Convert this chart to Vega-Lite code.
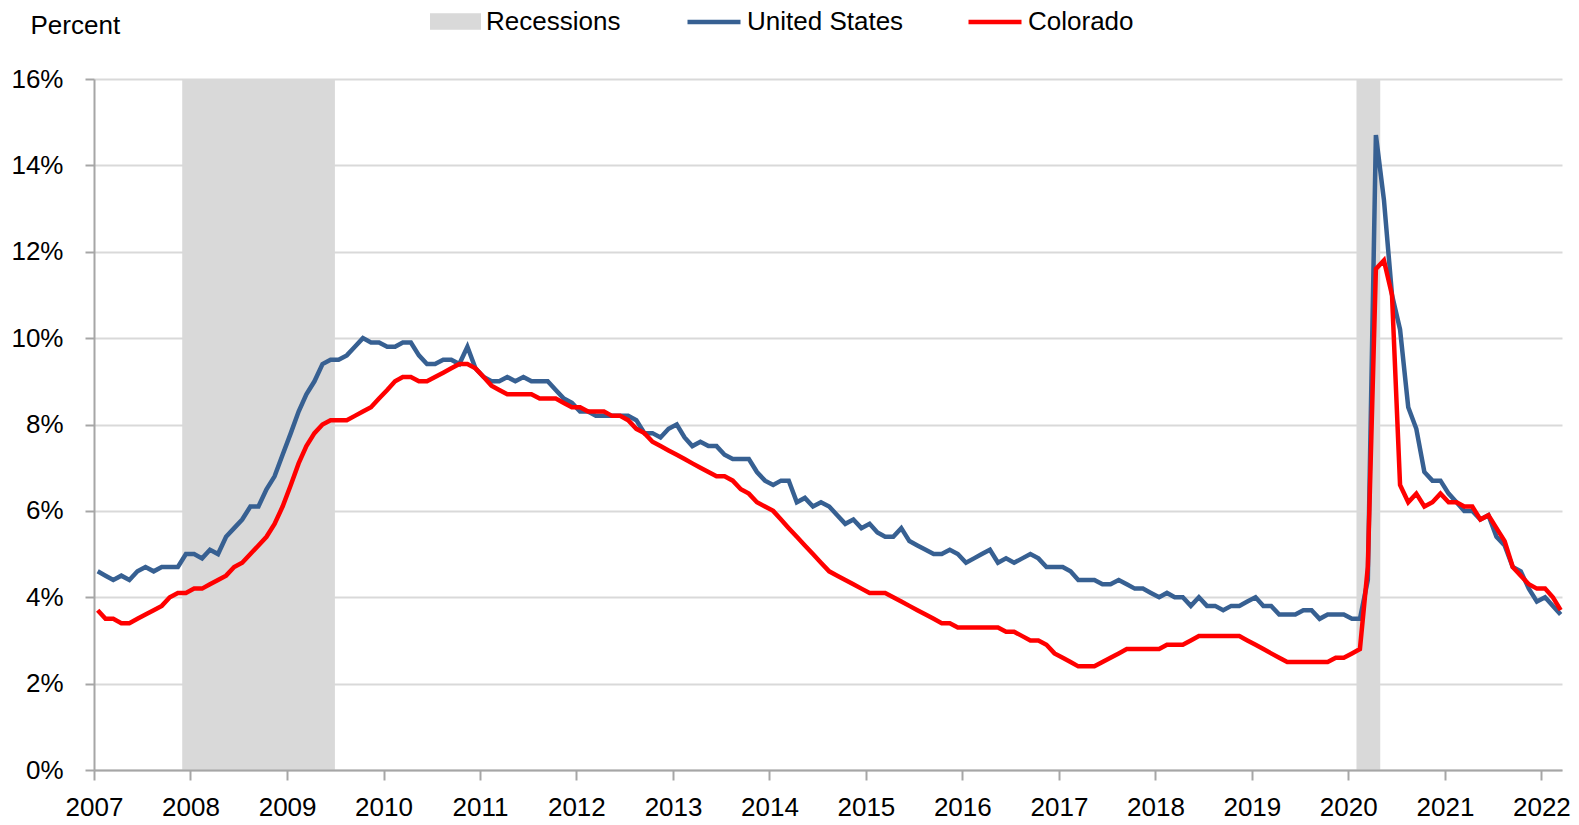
{
  "$schema": "https://vega.github.io/schema/vega-lite/v6.json",
  "width": 1468,
  "height": 691,
  "autosize": {"type": "none"},
  "padding": {"left": 94, "top": 79, "right": 17, "bottom": 55},
  "background": "white",
  "config": {
    "font": "Liberation Sans",
    "view": {"stroke": null},
    "axis": {"labelFont": "Liberation Sans", "titleFont": "Liberation Sans", "labelColor": "#000000", "titleColor": "#000000"},
    "legend": {"labelFont": "Liberation Sans", "labelColor": "#000000", "labelLimit": 400}
  },
  "datasets": {
    "rec": [
      {"start": "2007-12-01", "end": "2009-07-01", "label": "Recessions"},
      {"start": "2020-02-01", "end": "2020-05-01", "label": "Recessions"}
    ],
    "rates": [
      {"date": "2007-01-01", "us": 4.6, "co": 3.7},
      {"date": "2007-02-01", "us": 4.5, "co": 3.5},
      {"date": "2007-03-01", "us": 4.4, "co": 3.5},
      {"date": "2007-04-01", "us": 4.5, "co": 3.4},
      {"date": "2007-05-01", "us": 4.4, "co": 3.4},
      {"date": "2007-06-01", "us": 4.6, "co": 3.5},
      {"date": "2007-07-01", "us": 4.7, "co": 3.6},
      {"date": "2007-08-01", "us": 4.6, "co": 3.7},
      {"date": "2007-09-01", "us": 4.7, "co": 3.8},
      {"date": "2007-10-01", "us": 4.7, "co": 4.0},
      {"date": "2007-11-01", "us": 4.7, "co": 4.1},
      {"date": "2007-12-01", "us": 5.0, "co": 4.1},
      {"date": "2008-01-01", "us": 5.0, "co": 4.2},
      {"date": "2008-02-01", "us": 4.9, "co": 4.2},
      {"date": "2008-03-01", "us": 5.1, "co": 4.3},
      {"date": "2008-04-01", "us": 5.0, "co": 4.4},
      {"date": "2008-05-01", "us": 5.4, "co": 4.5},
      {"date": "2008-06-01", "us": 5.6, "co": 4.7},
      {"date": "2008-07-01", "us": 5.8, "co": 4.8},
      {"date": "2008-08-01", "us": 6.1, "co": 5.0},
      {"date": "2008-09-01", "us": 6.1, "co": 5.2},
      {"date": "2008-10-01", "us": 6.5, "co": 5.4},
      {"date": "2008-11-01", "us": 6.8, "co": 5.7},
      {"date": "2008-12-01", "us": 7.3, "co": 6.1},
      {"date": "2009-01-01", "us": 7.8, "co": 6.6},
      {"date": "2009-02-01", "us": 8.3, "co": 7.1},
      {"date": "2009-03-01", "us": 8.7, "co": 7.5},
      {"date": "2009-04-01", "us": 9.0, "co": 7.8},
      {"date": "2009-05-01", "us": 9.4, "co": 8.0},
      {"date": "2009-06-01", "us": 9.5, "co": 8.1},
      {"date": "2009-07-01", "us": 9.5, "co": 8.1},
      {"date": "2009-08-01", "us": 9.6, "co": 8.1},
      {"date": "2009-09-01", "us": 9.8, "co": 8.2},
      {"date": "2009-10-01", "us": 10.0, "co": 8.3},
      {"date": "2009-11-01", "us": 9.9, "co": 8.4},
      {"date": "2009-12-01", "us": 9.9, "co": 8.6},
      {"date": "2010-01-01", "us": 9.8, "co": 8.8},
      {"date": "2010-02-01", "us": 9.8, "co": 9.0},
      {"date": "2010-03-01", "us": 9.9, "co": 9.1},
      {"date": "2010-04-01", "us": 9.9, "co": 9.1},
      {"date": "2010-05-01", "us": 9.6, "co": 9.0},
      {"date": "2010-06-01", "us": 9.4, "co": 9.0},
      {"date": "2010-07-01", "us": 9.4, "co": 9.1},
      {"date": "2010-08-01", "us": 9.5, "co": 9.2},
      {"date": "2010-09-01", "us": 9.5, "co": 9.3},
      {"date": "2010-10-01", "us": 9.4, "co": 9.4},
      {"date": "2010-11-01", "us": 9.8, "co": 9.4},
      {"date": "2010-12-01", "us": 9.3, "co": 9.3},
      {"date": "2011-01-01", "us": 9.1, "co": 9.1},
      {"date": "2011-02-01", "us": 9.0, "co": 8.9},
      {"date": "2011-03-01", "us": 9.0, "co": 8.8},
      {"date": "2011-04-01", "us": 9.1, "co": 8.7},
      {"date": "2011-05-01", "us": 9.0, "co": 8.7},
      {"date": "2011-06-01", "us": 9.1, "co": 8.7},
      {"date": "2011-07-01", "us": 9.0, "co": 8.7},
      {"date": "2011-08-01", "us": 9.0, "co": 8.6},
      {"date": "2011-09-01", "us": 9.0, "co": 8.6},
      {"date": "2011-10-01", "us": 8.8, "co": 8.6},
      {"date": "2011-11-01", "us": 8.6, "co": 8.5},
      {"date": "2011-12-01", "us": 8.5, "co": 8.4},
      {"date": "2012-01-01", "us": 8.3, "co": 8.4},
      {"date": "2012-02-01", "us": 8.3, "co": 8.3},
      {"date": "2012-03-01", "us": 8.2, "co": 8.3},
      {"date": "2012-04-01", "us": 8.2, "co": 8.3},
      {"date": "2012-05-01", "us": 8.2, "co": 8.2},
      {"date": "2012-06-01", "us": 8.2, "co": 8.2},
      {"date": "2012-07-01", "us": 8.2, "co": 8.1},
      {"date": "2012-08-01", "us": 8.1, "co": 7.9},
      {"date": "2012-09-01", "us": 7.8, "co": 7.8},
      {"date": "2012-10-01", "us": 7.8, "co": 7.6},
      {"date": "2012-11-01", "us": 7.7, "co": 7.5},
      {"date": "2012-12-01", "us": 7.9, "co": 7.4},
      {"date": "2013-01-01", "us": 8.0, "co": 7.3},
      {"date": "2013-02-01", "us": 7.7, "co": 7.2},
      {"date": "2013-03-01", "us": 7.5, "co": 7.1},
      {"date": "2013-04-01", "us": 7.6, "co": 7.0},
      {"date": "2013-05-01", "us": 7.5, "co": 6.9},
      {"date": "2013-06-01", "us": 7.5, "co": 6.8},
      {"date": "2013-07-01", "us": 7.3, "co": 6.8},
      {"date": "2013-08-01", "us": 7.2, "co": 6.7},
      {"date": "2013-09-01", "us": 7.2, "co": 6.5},
      {"date": "2013-10-01", "us": 7.2, "co": 6.4},
      {"date": "2013-11-01", "us": 6.9, "co": 6.2},
      {"date": "2013-12-01", "us": 6.7, "co": 6.1},
      {"date": "2014-01-01", "us": 6.6, "co": 6.0},
      {"date": "2014-02-01", "us": 6.7, "co": 5.8},
      {"date": "2014-03-01", "us": 6.7, "co": 5.6},
      {"date": "2014-04-01", "us": 6.2, "co": 5.4},
      {"date": "2014-05-01", "us": 6.3, "co": 5.2},
      {"date": "2014-06-01", "us": 6.1, "co": 5.0},
      {"date": "2014-07-01", "us": 6.2, "co": 4.8},
      {"date": "2014-08-01", "us": 6.1, "co": 4.6},
      {"date": "2014-09-01", "us": 5.9, "co": 4.5},
      {"date": "2014-10-01", "us": 5.7, "co": 4.4},
      {"date": "2014-11-01", "us": 5.8, "co": 4.3},
      {"date": "2014-12-01", "us": 5.6, "co": 4.2},
      {"date": "2015-01-01", "us": 5.7, "co": 4.1},
      {"date": "2015-02-01", "us": 5.5, "co": 4.1},
      {"date": "2015-03-01", "us": 5.4, "co": 4.1},
      {"date": "2015-04-01", "us": 5.4, "co": 4.0},
      {"date": "2015-05-01", "us": 5.6, "co": 3.9},
      {"date": "2015-06-01", "us": 5.3, "co": 3.8},
      {"date": "2015-07-01", "us": 5.2, "co": 3.7},
      {"date": "2015-08-01", "us": 5.1, "co": 3.6},
      {"date": "2015-09-01", "us": 5.0, "co": 3.5},
      {"date": "2015-10-01", "us": 5.0, "co": 3.4},
      {"date": "2015-11-01", "us": 5.1, "co": 3.4},
      {"date": "2015-12-01", "us": 5.0, "co": 3.3},
      {"date": "2016-01-01", "us": 4.8, "co": 3.3},
      {"date": "2016-02-01", "us": 4.9, "co": 3.3},
      {"date": "2016-03-01", "us": 5.0, "co": 3.3},
      {"date": "2016-04-01", "us": 5.1, "co": 3.3},
      {"date": "2016-05-01", "us": 4.8, "co": 3.3},
      {"date": "2016-06-01", "us": 4.9, "co": 3.2},
      {"date": "2016-07-01", "us": 4.8, "co": 3.2},
      {"date": "2016-08-01", "us": 4.9, "co": 3.1},
      {"date": "2016-09-01", "us": 5.0, "co": 3.0},
      {"date": "2016-10-01", "us": 4.9, "co": 3.0},
      {"date": "2016-11-01", "us": 4.7, "co": 2.9},
      {"date": "2016-12-01", "us": 4.7, "co": 2.7},
      {"date": "2017-01-01", "us": 4.7, "co": 2.6},
      {"date": "2017-02-01", "us": 4.6, "co": 2.5},
      {"date": "2017-03-01", "us": 4.4, "co": 2.4},
      {"date": "2017-04-01", "us": 4.4, "co": 2.4},
      {"date": "2017-05-01", "us": 4.4, "co": 2.4},
      {"date": "2017-06-01", "us": 4.3, "co": 2.5},
      {"date": "2017-07-01", "us": 4.3, "co": 2.6},
      {"date": "2017-08-01", "us": 4.4, "co": 2.7},
      {"date": "2017-09-01", "us": 4.3, "co": 2.8},
      {"date": "2017-10-01", "us": 4.2, "co": 2.8},
      {"date": "2017-11-01", "us": 4.2, "co": 2.8},
      {"date": "2017-12-01", "us": 4.1, "co": 2.8},
      {"date": "2018-01-01", "us": 4.0, "co": 2.8},
      {"date": "2018-02-01", "us": 4.1, "co": 2.9},
      {"date": "2018-03-01", "us": 4.0, "co": 2.9},
      {"date": "2018-04-01", "us": 4.0, "co": 2.9},
      {"date": "2018-05-01", "us": 3.8, "co": 3.0},
      {"date": "2018-06-01", "us": 4.0, "co": 3.1},
      {"date": "2018-07-01", "us": 3.8, "co": 3.1},
      {"date": "2018-08-01", "us": 3.8, "co": 3.1},
      {"date": "2018-09-01", "us": 3.7, "co": 3.1},
      {"date": "2018-10-01", "us": 3.8, "co": 3.1},
      {"date": "2018-11-01", "us": 3.8, "co": 3.1},
      {"date": "2018-12-01", "us": 3.9, "co": 3.0},
      {"date": "2019-01-01", "us": 4.0, "co": 2.9},
      {"date": "2019-02-01", "us": 3.8, "co": 2.8},
      {"date": "2019-03-01", "us": 3.8, "co": 2.7},
      {"date": "2019-04-01", "us": 3.6, "co": 2.6},
      {"date": "2019-05-01", "us": 3.6, "co": 2.5},
      {"date": "2019-06-01", "us": 3.6, "co": 2.5},
      {"date": "2019-07-01", "us": 3.7, "co": 2.5},
      {"date": "2019-08-01", "us": 3.7, "co": 2.5},
      {"date": "2019-09-01", "us": 3.5, "co": 2.5},
      {"date": "2019-10-01", "us": 3.6, "co": 2.5},
      {"date": "2019-11-01", "us": 3.6, "co": 2.6},
      {"date": "2019-12-01", "us": 3.6, "co": 2.6},
      {"date": "2020-01-01", "us": 3.5, "co": 2.7},
      {"date": "2020-02-01", "us": 3.5, "co": 2.8},
      {"date": "2020-03-01", "us": 4.4, "co": 4.7},
      {"date": "2020-04-01", "us": 14.7, "co": 11.6},
      {"date": "2020-05-01", "us": 13.2, "co": 11.8},
      {"date": "2020-06-01", "us": 11.0, "co": 11.0},
      {"date": "2020-07-01", "us": 10.2, "co": 6.6},
      {"date": "2020-08-01", "us": 8.4, "co": 6.2},
      {"date": "2020-09-01", "us": 7.9, "co": 6.4},
      {"date": "2020-10-01", "us": 6.9, "co": 6.1},
      {"date": "2020-11-01", "us": 6.7, "co": 6.2},
      {"date": "2020-12-01", "us": 6.7, "co": 6.4},
      {"date": "2021-01-01", "us": 6.4, "co": 6.2},
      {"date": "2021-02-01", "us": 6.2, "co": 6.2},
      {"date": "2021-03-01", "us": 6.0, "co": 6.1},
      {"date": "2021-04-01", "us": 6.0, "co": 6.1},
      {"date": "2021-05-01", "us": 5.8, "co": 5.8},
      {"date": "2021-06-01", "us": 5.9, "co": 5.9},
      {"date": "2021-07-01", "us": 5.4, "co": 5.6},
      {"date": "2021-08-01", "us": 5.2, "co": 5.3},
      {"date": "2021-09-01", "us": 4.7, "co": 4.7},
      {"date": "2021-10-01", "us": 4.6, "co": 4.5},
      {"date": "2021-11-01", "us": 4.2, "co": 4.3},
      {"date": "2021-12-01", "us": 3.9, "co": 4.2},
      {"date": "2022-01-01", "us": 4.0, "co": 4.2},
      {"date": "2022-02-01", "us": 3.8, "co": 4.0},
      {"date": "2022-03-01", "us": 3.6, "co": 3.7}
    ]
  },
  "layer": [
    {
      "data": {"name": "rec"},
      "mark": {"type": "rect"},
      "encoding": {
        "x": {
          "field": "start", "type": "temporal",
          "scale": {"type": "utc", "domain": [{"year": 2007, "month": 1, "date": 1, "utc": true}, {"year": 2022, "month": 3, "date": 20, "utc": true}]},
          "axis": {
            "title": null, "format": "%Y", "tickCount": {"interval": "year", "step": 1},
            "domainColor": "#A6A6A6", "domainWidth": 2, "tickColor": "#A6A6A6", "tickWidth": 2, "tickSize": 10,
            "labelFontSize": 26, "labelPadding": 14, "labelFlush": false, "labelOverlap": false, "grid": false, "zindex": 1
          }
        },
        "x2": {"field": "end"},
        "fill": {
          "field": "label", "type": "nominal",
          "scale": {"domain": ["Recessions"], "range": ["#D9D9D9"]},
          "legend": {
            "orient": "none", "legendX": 336, "legendY": -83, "title": null, "padding": 0,
            "symbolType": "M-1,-0.32H1V0.32H-1Z", "symbolSize": 2601, "symbolStrokeWidth": 0,
            "labelFontSize": 26, "labelOffset": 5
          }
        }
      }
    },
    {
      "data": {"name": "rates"},
      "mark": {"type": "line", "strokeWidth": 4.5},
      "encoding": {
        "x": {"field": "date", "type": "temporal", "timeUnit": "utcyearmonth", "bandPosition": 0.45},
        "y": {
          "field": "us", "type": "quantitative",
          "scale": {"domain": [0, 16], "nice": false},
          "axis": {
            "title": "Percent", "titleAngle": 0, "titleX": -64, "titleY": -46, "titleAlign": "left", "titleBaseline": "alphabetic",
            "titleFontSize": 26, "titleFontWeight": "normal",
            "values": [0, 2, 4, 6, 8, 10, 12, 14, 16], "labelExpr": "datum.value + '%'",
            "labelFontSize": 26, "labelPadding": 22,
            "domainColor": "#A6A6A6", "domainWidth": 2, "tickColor": "#A6A6A6", "tickWidth": 2, "tickSize": 9,
            "grid": true, "gridColor": "#D9D9D9", "gridWidth": 2
          }
        },
        "stroke": {
          "datum": "United States", "type": "nominal",
          "scale": {"domain": ["United States", "Colorado"], "range": ["#376092", "#FF0000"]},
          "legend": {
            "orient": "none", "legendX": 591, "legendY": -86, "title": null, "padding": 0, "direction": "horizontal",
            "symbolType": "stroke", "symbolSize": 2809, "symbolStrokeWidth": 4.5,
            "labelFontSize": 26, "labelOffset": 4, "columnPadding": 55
          }
        }
      }
    },
    {
      "data": {"name": "rates"},
      "mark": {"type": "line", "strokeWidth": 4.5},
      "encoding": {
        "x": {"field": "date", "type": "temporal", "timeUnit": "utcyearmonth", "bandPosition": 0.45},
        "y": {"field": "co", "type": "quantitative"},
        "stroke": {"datum": "Colorado", "type": "nominal"}
      }
    }
  ]
}
